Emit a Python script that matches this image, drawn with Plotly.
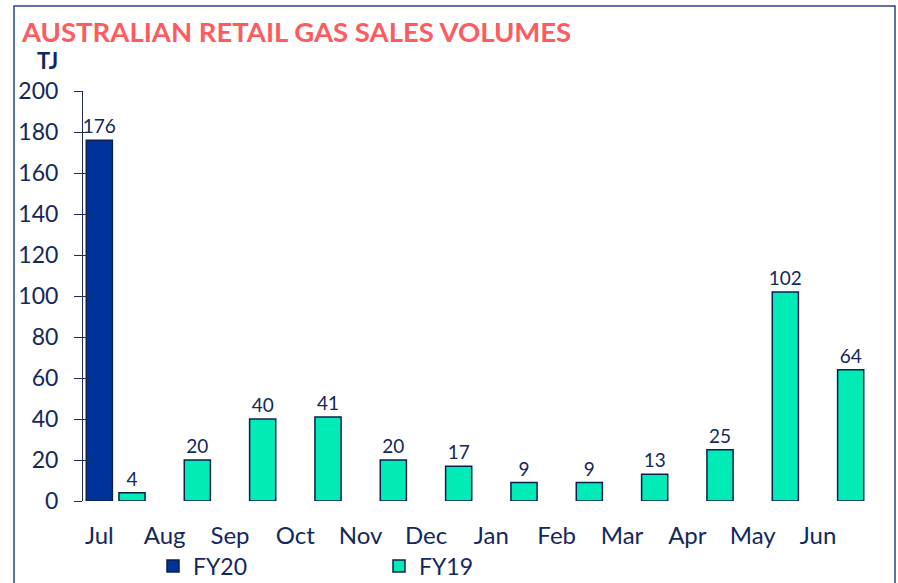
import plotly.graph_objects as go

months = ["Jul", "Aug", "Sep", "Oct", "Nov", "Dec", "Jan", "Feb", "Mar", "Apr", "May", "Jun"]
fy20 = [176, None, None, None, None, None, None, None, None, None, None, None]
fy19 = [4, 20, 40, 41, 20, 17, 9, 9, 13, 25, 102, 64]
y_ticks = [0, 20, 40, 60, 80, 100, 120, 140, 160, 180, 200]

NAVY = "#13285C"
FONT = "Lato"
pos = list(range(len(months)))

fig = go.Figure()
fig.add_trace(go.Bar(
    x=pos, y=fy20, name="FY20", offset=-0.45, width=0.4,
    marker=dict(color="#00339A", line=dict(color="#0C1F4F", width=1.5)),
    text=[("" if v is None else str(v)) for v in fy20], textposition="outside",
    constraintext="none",
    textfont=dict(size=19, color=NAVY, family=FONT), cliponaxis=False,
))
fig.add_trace(go.Bar(
    x=pos, y=fy19, name="FY19", offset=0.05, width=0.4,
    marker=dict(color="#00EBB5", line=dict(color="#0C1F4F", width=1.5)),
    text=[str(v) for v in fy19], textposition="outside",
    constraintext="none",
    textfont=dict(size=19, color=NAVY, family=FONT), cliponaxis=False,
))
# invisible trace on overlay axis for inside ticks
fig.add_trace(go.Scatter(x=[None], y=[None], yaxis="y2", showlegend=False, hoverinfo="skip"))

fig.update_layout(
    width=898, height=583,
    margin=dict(l=83, r=31, t=91, b=82, autoexpand=False),
    paper_bgcolor="white", plot_bgcolor="white",
    barmode="overlay",
    font=dict(family=FONT, color=NAVY),
    title=dict(text="<b>AUSTRALIAN RETAIL GAS SALES VOLUMES</b>",
               font=dict(size=27.5, color="#FF5B5F", family=FONT),
               x=22 / 898, xanchor="left", xref="container",
               y=1 - 32 / 583, yanchor="middle", yref="container"),
    xaxis=dict(range=[-0.5, len(months) - 0.5], tickvals=[p - 0.25 for p in pos], ticktext=months,
               showgrid=False, zeroline=False, showline=False, ticks="",
               tickfont=dict(size=24, color=NAVY, family=FONT), ticklabelstandoff=18),
    yaxis=dict(range=[0, 200], tickvals=y_ticks, showgrid=False, zeroline=False,
               showline=True, linecolor="#1F2D50", linewidth=1,
               ticks="outside", ticklen=8, tickcolor="#1F2D50",
               tickfont=dict(size=23, color=NAVY, family=FONT), ticklabelstandoff=11),
    yaxis2=dict(range=[0, 200], overlaying="y", side="left", tickvals=y_ticks,
                showticklabels=False, ticks="inside", ticklen=9, tickcolor="#1F2D50",
                showgrid=False, zeroline=False, showline=False),
    legend=dict(orientation="h", xref="container", yref="container",
                x=153 / 898, xanchor="left", y=1 - 566 / 583, yanchor="middle",
                entrywidth=181, entrywidthmode="pixels",
                font=dict(size=23, color=NAVY, family=FONT), bgcolor="rgba(0,0,0,0)"),
    annotations=[dict(text="<b>TJ</b>", xref="paper", yref="paper",
                      x=(47.5 - 83) / 784, y=(501 - 60.5) / 410, xanchor="center", yanchor="middle",
                      showarrow=False, font=dict(size=22, color=NAVY, family=FONT))],
    shapes=[dict(type="rect", xref="paper", yref="paper",
                 x0=(14 - 83) / 784, x1=(895 - 83) / 784,
                 y0=-0.4, y1=(501 - 6) / 410,
                 line=dict(color="#2B4585", width=1.5), fillcolor="rgba(0,0,0,0)", layer="below")],
)

fig.write_html("out.html", config={"displayModeBar": False},
               post_script="document.body.style.margin='0';document.body.style.padding='0';")
